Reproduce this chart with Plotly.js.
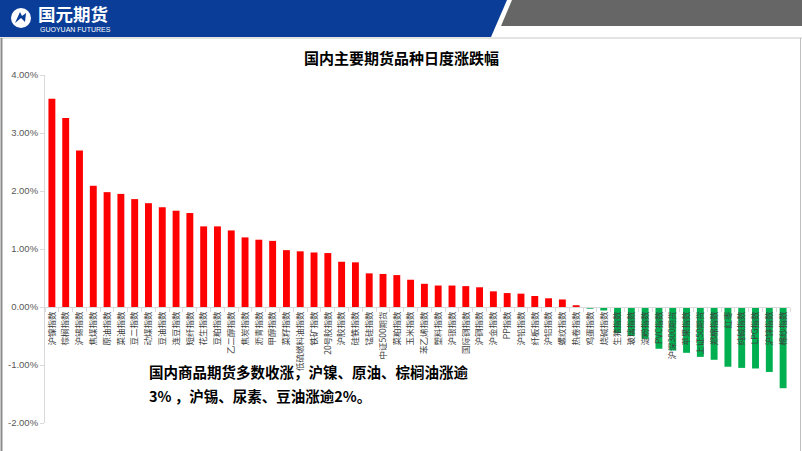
<!DOCTYPE html>
<html>
<head>
<meta charset="utf-8">
<script src="https://cdn.plot.ly/plotly-3.0.1.min.js"></script>
<style>
html,body{margin:0;padding:0;background:#fff;}
#chart{width:802px;height:451px;}
</style>
</head>
<body>
<div id="chart"></div>
<script>
const categories = ["沪镍指数","棕榈指数","沪锡指数","焦煤指数","原油指数","菜油指数","豆二指数","动煤指数","豆油指数","连豆指数",
  "短纤指数","花生指数","豆粕指数","乙二醇指数","焦炭指数","沥青指数","甲醇指数","菜籽指数","低硫燃料油指数","铁矿指数",
  "20号胶指数","沪胶指数","硅铁指数","锰硅指数","中证500期货","菜粕指数","玉米指数","苯乙烯指数","塑料指数","沪银指数",
  "国际铜指数","沪铜指数","沪金指数","PP指数","沪铅指数","纤板指数","沪铝指数","螺纹指数","热卷指数","鸡蛋指数",
  "烧碱指数","生猪指数","玻璃指数","淀粉指数","PVC指数","沪深300期货","苹果指数","上证50期货","郑棉指数","红枣",
  "纯碱指数","LPG指数","沪锌指数","棉纱指数"];
const changes = [3.59,3.26,2.70,2.09,1.98,1.95,1.86,1.79,1.72,1.66,
  1.62,1.39,1.39,1.32,1.20,1.16,1.14,0.98,0.96,0.94,
  0.93,0.78,0.77,0.58,0.57,0.55,0.47,0.40,0.37,0.37,
  0.36,0.34,0.27,0.24,0.23,0.19,0.15,0.13,0.03,-0.03,
  -0.06,-0.45,-0.50,-0.55,-0.72,-0.75,-0.79,-0.86,-0.91,-1.03,
  -1.05,-1.06,-1.12,-1.40];
const yTickVals = [-2,-1,0,1,2,3,4];
const yTickText = ["-2.00%","-1.00%","0.00%","1.00%","2.00%","3.00%","4.00%"];
const chartTitle = "国内主要期货品种日度涨跌幅";
const noteLine1 = "国内商品期货多数收涨，沪镍、原油、棕榈油涨逾";
const noteLine2 = "3% ，沪锡、尿素、豆油涨逾2%。";

const W = 802, H = 451, ML = 45, MR = 12, MT = 75, MB = 28;
const PW = W - ML - MR, PH = H - MT - MB;
function px(x){ return (x - ML) / PW; }
function py(y){ return (H - MB - y) / PH; }
function path(pts){ return pts.map((p,i)=>(i?'L':'M')+px(p[0])+','+py(p[1])).join(' ')+' Z'; }

const colors = changes.map(v => v >= 0 ? '#FF0000' : '#00B050');

const trace = {
  type: 'bar', x: categories, y: changes,
  marker: {color: colors, line: {width: 0}},
  hoverinfo: 'none'
};

const shapes = [
  {type:'path', xref:'paper', yref:'paper', path: path([[0,0],[507,0],[491,37],[0,37]]), fillcolor:'#0A3D97', line:{width:0}, layer:'above'},
  {type:'path', xref:'paper', yref:'paper', path: path([[512,0],[802,0],[802,26],[501,26]]), fillcolor:'#666666', line:{width:0}, layer:'above'},
  {type:'line', xref:'paper', yref:'paper', x0:px(0), x1:px(802), y0:py(38), y1:py(38), line:{color:'#C8C8C8', width:1}},
  {type:'line', xref:'paper', yref:'paper', x0:px(1.5), x1:px(1.5), y0:py(38), y1:py(451), line:{color:'#8C8C8C', width:2}},
  {type:'line', xref:'paper', yref:'paper', x0:px(800.5), x1:px(800.5), y0:py(38), y1:py(451), line:{color:'#BFBFBF', width:1}},
  {type:'circle', xref:'paper', yref:'paper', x0:px(11), x1:px(31), y0:py(8), y1:py(28), fillcolor:'#FFFFFF', line:{width:0}, layer:'above'},
  {type:'path', xref:'paper', yref:'paper', path: path([[15,23],[20,12],[22,16],[26,13],[25,22],[21,18]]), fillcolor:'#0A3D97', line:{width:0}, layer:'above'}
];

const annotations = [
  {xref:'paper', yref:'paper', x:px(36), y:py(14), xanchor:'left', yanchor:'middle', showarrow:false,
   text:'<b>国元期货</b>', font:{family:'Noto Sans CJK SC', size:17.5, color:'#FFFFFF'}},
  {xref:'paper', yref:'paper', x:px(38), y:py(29), xanchor:'left', yanchor:'middle', showarrow:false,
   text:'GUOYUAN FUTURES', font:{family:'Liberation Sans', size:7, color:'#FFFFFF'}},
  {xref:'paper', yref:'paper', x:px(401), y:py(57), xanchor:'center', yanchor:'middle', showarrow:false,
   text:'<b>'+chartTitle+'</b>', font:{family:'Noto Sans CJK SC', size:15, color:'#000000'}},
  {xref:'paper', yref:'paper', x:px(147), y:py(371), xanchor:'left', yanchor:'middle', showarrow:false,
   text:'<b>'+noteLine1+'</b>', font:{family:'Noto Sans CJK SC', size:14.5, color:'#000000'}},
  {xref:'paper', yref:'paper', x:px(147), y:py(395), xanchor:'left', yanchor:'middle', showarrow:false,
   text:'<b>'+noteLine2+'</b>', font:{family:'Noto Sans CJK SC', size:14.5, color:'#000000'}}
];

const layout = {
  width: W, height: H,
  margin: {l: ML, r: MR, t: MT, b: MB, pad: 0},
  paper_bgcolor: '#FFFFFF', plot_bgcolor: '#FFFFFF',
  showlegend: false, bargap: 0.5,
  xaxis: {
    type: 'category', anchor: 'free', position: py(307),
    showline: true, linecolor: '#D9D9D9', linewidth: 1,
    ticks: 'outside', ticklen: 4, tickcolor: '#D9D9D9', tickson: 'boundaries',
    tickangle: -90, showgrid: false, zeroline: false,
    tickfont: {family: 'Noto Sans CJK SC', size: 8.5, color: '#404040'},
    automargin: false, layer: 'above traces'
  },
  yaxis: {
    range: [-2, 4], autorange: false,
    tickvals: yTickVals, ticktext: yTickText,
    showline: true, linecolor: '#D9D9D9', linewidth: 1,
    ticks: 'outside', ticklen: 4, tickcolor: '#D9D9D9',
    showgrid: false, zeroline: false,
    tickfont: {family: 'Liberation Sans', size: 9.5, color: '#595959'},
    automargin: false
  },
  shapes: shapes,
  annotations: annotations
};

Plotly.newPlot('chart', [trace], layout, {displayModeBar: false, staticPlot: true});
</script>
</body>
</html>
